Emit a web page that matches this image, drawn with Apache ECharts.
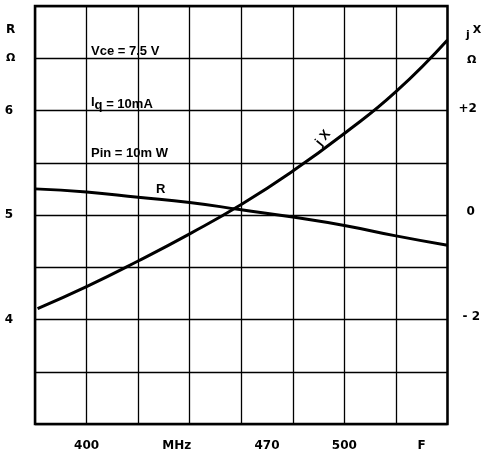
<!DOCTYPE html>
<html>
<head>
<meta charset="utf-8">
<script src="https://cdn.jsdelivr.net/npm/echarts@6/dist/echarts.min.js"></script>
<style>
  html, body { margin: 0; padding: 0; background: #fff; }
  #chart { width: 483px; height: 456px; }
</style>
</head>
<body>
<div id="chart"></div>
<script>
// Input resistance R (ohm) versus frequency (MHz)
const rFreqMHz = [380, 400, 420, 440, 460, 480, 500, 520, 540];
const resistance = [5.25, 5.22, 5.17, 5.12, 5.05, 4.98, 4.90, 4.80, 4.71];
// Input reactance jX (ohm) versus frequency (MHz)
const xFreqMHz = [381, 400, 420, 440, 460, 480, 500, 520, 540];
const reactance = [-1.79, -1.37, -0.88, -0.36, 0.20, 0.84, 1.56, 2.36, 3.35];

// Axis label positions and texts
const freqLabelValues = [400, 435, 470, 500, 530];
const freqLabelTexts = ['400', 'MHz', '470', '500', 'F'];
const rLabelValues = [4, 5, 6];
const xLabelValues = [-2, 0, 2];
const xLabelTexts = ['{m|- 2}', '{z|0}', '{p|+2}'];

// Bias conditions
const conditions = ['Vce = 7.5 V', '{i|I}{q|q} = 10mA', 'Pin = 10m W'];

const FONT = '"Liberation Sans", Arial, sans-serif';
const AXIS_FONT = '"DejaVu Sans", sans-serif';
const chart = echarts.init(document.getElementById('chart'));

const labelStyle = { color: '#000', fontFamily: AXIS_FONT, fontWeight: 'bold', fontSize: 12 };
const noteStyle = { fill: '#000', fontFamily: FONT, fontWeight: 'bold', fontSize: 13 };

chart.setOption({
  backgroundColor: '#fff',
  animation: false,
  grid: {
    left: 35, right: 34, top: 6, bottom: 32,
    show: true, borderColor: '#000', borderWidth: 2.5, backgroundColor: 'transparent'
  },
  xAxis: {
    type: 'value', min: 380, max: 540, interval: 20,
    axisLine: { show: false },
    axisTick: { show: false },
    splitLine: { show: true, lineStyle: { color: '#000', width: 1.3 } },
    axisLabel: Object.assign({
      margin: 16,
      customValues: freqLabelValues,
      formatter: v => freqLabelTexts[freqLabelValues.indexOf(v)] || ''
    }, labelStyle)
  },
  yAxis: [
    {
      type: 'value', min: 3, max: 7, interval: 0.5,
      axisLine: { show: false },
      axisTick: { show: false },
      splitLine: { show: true, lineStyle: { color: '#000', width: 1.3 } },
      axisLabel: Object.assign({
        margin: 26, align: 'center', padding: [0, 0, 9, 0],
        customValues: rLabelValues,
        formatter: v => String(v)
      }, labelStyle)
    },
    {
      type: 'value', min: -4, max: 4, interval: 1,
      position: 'right',
      axisLine: { show: false },
      axisTick: { show: false },
      splitLine: { show: false },
      axisLabel: Object.assign({
        margin: 11, align: 'left',
        customValues: xLabelValues,
        formatter: v => xLabelTexts[xLabelValues.indexOf(v)],
        rich: {
          p: Object.assign({ padding: [0, 0, 3, 0] }, labelStyle),
          z: Object.assign({ padding: [0, 0, 7, 8] }, labelStyle),
          m: Object.assign({ padding: [0, 0, 5, 4] }, labelStyle)
        }
      }, labelStyle)
    }
  ],
  series: [
    {
      name: 'R', type: 'line', yAxisIndex: 0, smooth: true, symbol: 'none',
      data: rFreqMHz.map((f, i) => [f, resistance[i]]),
      lineStyle: { color: '#000', width: 3 }
    },
    {
      name: 'jX', type: 'line', yAxisIndex: 1, smooth: true, symbol: 'none',
      data: xFreqMHz.map((f, i) => [f, reactance[i]]),
      lineStyle: { color: '#000', width: 3 }
    }
  ],
  graphic: [
    // left axis heading
    { type: 'text', left: 6, top: 24, style: { text: 'R', fill: '#000', fontFamily: AXIS_FONT, fontWeight: 'bold', fontSize: 12 } },
    { type: 'text', left: 6, top: 53, style: { text: 'Ω', fill: '#000', fontFamily: AXIS_FONT, fontWeight: 'bold', fontSize: 11 } },
    // right axis heading
    { type: 'text', left: 466, top: 25, style: {
        text: '{j|j}{x|X}', fill: '#000',
        rich: {
          j: { fontSize: 11, fontWeight: 'bold', fontFamily: AXIS_FONT, padding: [10, 3, 0, 0] },
          x: { fontSize: 11, fontWeight: 'bold', fontFamily: AXIS_FONT }
        } } },
    { type: 'text', left: 467, top: 55, style: { text: 'Ω', fill: '#000', fontFamily: AXIS_FONT, fontWeight: 'bold', fontSize: 11 } },
    // bias conditions
    { type: 'text', left: 91, top: 45, style: Object.assign({ text: conditions[0] }, noteStyle) },
    { type: 'text', left: 91, top: 96, style: Object.assign({
        text: conditions[1],
        rich: {
          i: Object.assign({ padding: [0, 0, 4, 0] }, noteStyle),
          q: Object.assign({ padding: [2, 0, 0, 0] }, noteStyle)
        } }, noteStyle) },
    { type: 'text', left: 91, top: 147, style: Object.assign({ text: conditions[2] }, noteStyle) },
    // curve names
    { type: 'text', left: 156, top: 183, style: Object.assign({ text: 'R' }, noteStyle) },
    { type: 'text', x: 323, y: 138, rotation: Math.PI * 50 / 180,
      style: Object.assign({ text: 'j X', align: 'center', verticalAlign: 'middle' }, noteStyle) }
  ]
});
</script>
</body>
</html>
